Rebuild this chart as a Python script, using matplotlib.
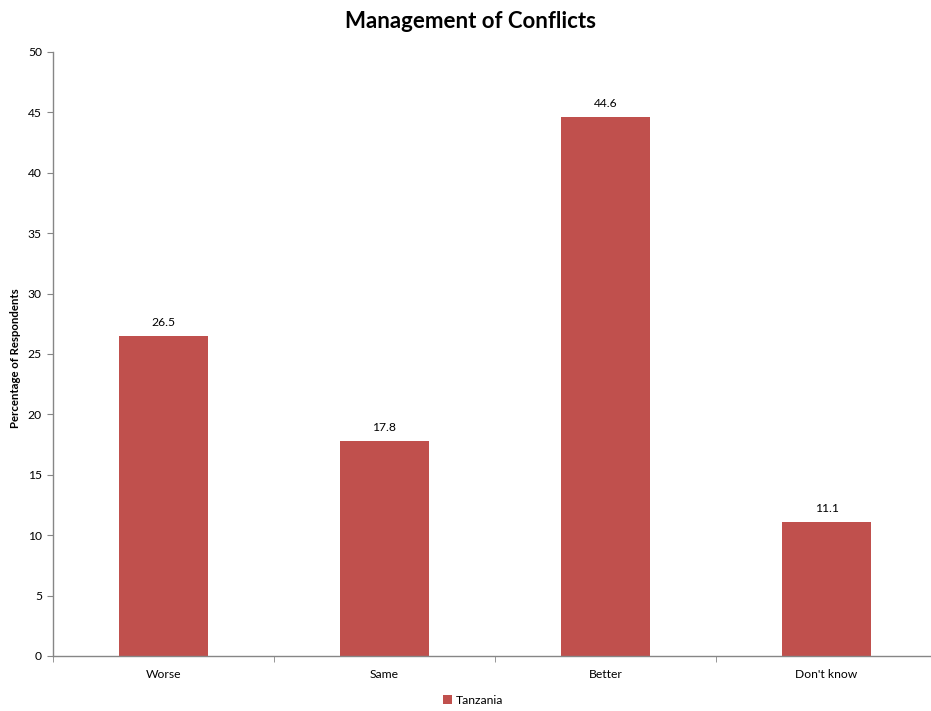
import matplotlib
matplotlib.use("Agg")
import matplotlib.pyplot as plt
from matplotlib.ticker import FixedLocator, NullFormatter
from matplotlib.patches import Patch

categories = ["Worse", "Same", "Better", "Don't know"]
values = [26.5, 17.8, 44.6, 11.1]
series_name = "Tanzania"
title = "Management of Conflicts"
y_label = "Percentage of Respondents"
y_ticks = [0, 5, 10, 15, 20, 25, 30, 35, 40, 45, 50]

plt.rcParams['font.family'] = ['Lato', 'DejaVu Sans']

W, H = 931, 711
fig = plt.figure(figsize=(W / 100, H / 100), dpi=100)
left, right, top, bottom = 53, 937, 52, 656
ax = fig.add_axes([left / W, 1 - bottom / H, (right - left) / W, (bottom - top) / H])

bar_color = "#C0504D"
axis_color = "#868686"
x = list(range(len(categories)))
bars = ax.bar(x, values, width=0.4, color=bar_color, zorder=2)
for xi, v in zip(x, values):
    ax.annotate(f"{v:.1f}", (xi, v), xytext=(0, 6), textcoords="offset points",
                ha="center", va="bottom", fontsize=8.7, color="#000000")

ax.set_xlim(-0.5, len(categories) - 0.5)
ax.set_ylim(0, 50)
ax.set_yticks(y_ticks)
ax.set_xticks(x)
ax.set_xticklabels(categories)
ax.xaxis.set_minor_locator(FixedLocator([i - 0.5 for i in range(len(categories) + 1)]))
ax.xaxis.set_minor_formatter(NullFormatter())
ax.tick_params(axis="x", which="major", length=0, pad=9, labelsize=8.7)
ax.tick_params(axis="x", which="minor", length=4, color=axis_color, direction="out")
ax.tick_params(axis="y", length=4, color=axis_color, direction="out", pad=4, labelsize=8.7)

for s in ["top", "right"]:
    ax.spines[s].set_visible(False)
for s in ["left", "bottom"]:
    ax.spines[s].set_color(axis_color)
    ax.spines[s].set_linewidth(1.0)

fig.text(471 / W, 1 - 22 / H, title, ha="center", va="center",
         fontsize=16, fontweight="bold")
fig.text(16 / W, 1 - 358 / H, y_label, ha="center", va="center",
         rotation=90, fontsize=8.2, fontweight="bold")

handles = [Patch(facecolor=bar_color, edgecolor="none", label=series_name)]
fig.legend(handles=handles, loc="center", bbox_to_anchor=(473 / W, 1 - 700 / H),
           frameon=False, fontsize=8.7, handlelength=0.7, handleheight=0.7,
           handletextpad=0.3)

fig.savefig("out.png", dpi=100)
